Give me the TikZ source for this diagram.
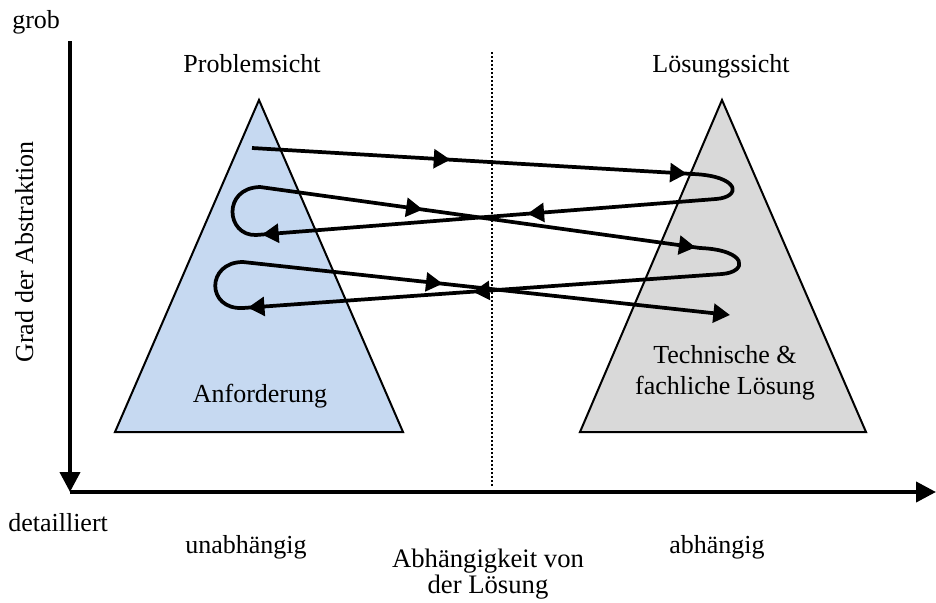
\documentclass[tikz,border=0pt]{standalone}
\usepackage{fontspec}
\setmainfont{Liberation Serif}
\usetikzlibrary{arrows.meta,decorations.markings}
\definecolor{reqblue}{HTML}{C6D9F1}
\definecolor{solgray}{HTML}{D9D9D9}
\newcommand\flowtip{\arrow{Triangle[length=12.5pt,width=14pt]}}
\tikzset{
  axis/.style={line width=3pt, -{Triangle[length=15pt,width=15pt]}},
  cone/.style={draw=black, line width=1.5pt, line join=miter},
  divider/.style={line width=1.5pt, dash pattern=on 1.5pt off 1.5pt},
  flow/.style={line width=2.8pt, line join=round},
  twotips/.style 2 args={postaction={decorate},
    decoration={markings,
      mark=at position #1 with {\flowtip},
      mark=at position #2 with {\flowtip}}},
  onetip/.style={postaction={decorate},
    decoration={markings, mark=at position #1 with {\flowtip}}},
  lbl/.style={font=\fontsize{19.5}{23.25}\selectfont, inner sep=0pt},
}
\begin{document}
\begin{tikzpicture}[x=0.75pt,y=-0.75pt]
  \useasboundingbox (0,0) rectangle (936,603);

  % triangles: problem view (left) and solution view (right)
  \coordinate (lt) at (259,100);
  \coordinate (ll) at (115,432);
  \coordinate (lr) at (403,432);
  \coordinate (rt) at (722,100);
  \coordinate (rl) at (580,432);
  \coordinate (rr) at (866,432);
  \fill[reqblue] (lt) -- (lr) -- (ll) -- cycle;
  \fill[solgray] (rt) -- (rr) -- (rl) -- cycle;
  \draw[cone] (lt) -- (lr) -- (ll) -- cycle;
  \draw[cone] (rt) -- (rr) -- (rl) -- cycle;

  % dotted divider
  \coordinate (dtop) at (492,52);
  \coordinate (dbot) at (492,488);
  \draw[divider] (dtop) -- (dbot);

  % axes
  \coordinate (ytop) at (70,41);
  \coordinate (origin) at (70,492);
  \coordinate (xend) at (936,492);
  \draw[axis] (ytop) -- (origin);
  \draw[axis] (origin) -- (xend);

  % zigzag between the two views
  \coordinate (A) at (252,148);
  \coordinate (B) at (693,174);
  \coordinate (C) at (716,199);
  \coordinate (D) at (256,235);
  \coordinate (E) at (260,187);
  \coordinate (F) at (700,248);
  \coordinate (G) at (722,274);
  \coordinate (H) at (243,308);
  \coordinate (I) at (243,262);
  \coordinate (J) at (730,315);

  \draw[flow, twotips={0.45}{0.986}] (A) -- (B);
  \draw[flow] (B) .. controls (740,176) and (742,197) .. (C);
  \draw[flow, twotips={0.41}{0.987}] (C) -- (D);
  \draw[flow] (D) .. controls (226,236) and (222,188) .. (E);
  \draw[flow, twotips={0.37}{0.99}] (E) -- (F);
  \draw[flow] (F) .. controls (748,250) and (748,272) .. (G);
  \draw[flow, twotips={0.52}{0.99}] (G) -- (H);
  \draw[flow] (H) .. controls (206,310) and (206,262) .. (I);
  \draw[flow, onetip={0.41}, -{Triangle[length=12.5pt,width=14pt]}] (I) -- (J);

  % labels
  \node[lbl, anchor=base west] (grob) at (12,28) {grob};
  \node[lbl, anchor=base west] (detail) at (8,531) {detailliert};
  \node[lbl, anchor=base, rotate=90] (abstr) at (33,252) {Grad der Abstraktion};
  \node[lbl, anchor=base] (psicht) at (252,72) {Problemsicht};
  \node[lbl, anchor=base] (lsicht) at (721,72) {Lösungssicht};
  \node[lbl, anchor=base] (anf) at (260,402) {Anforderung};
  \node[lbl, anchor=base, align=center] (tech) at (725,394) {Technische \&\\fachliche Lösung};
  \node[lbl, anchor=base] (unabh) at (246,553) {unabhängig};
  \node[lbl, anchor=base] (abh) at (717,553) {abhängig};
  \node[lbl, anchor=base, align=center, font=\fontsize{20}{19.5}\selectfont] (abhlsg) at (488,593) {Abhängigkeit von\\der Lösung};
\end{tikzpicture}
\end{document}
